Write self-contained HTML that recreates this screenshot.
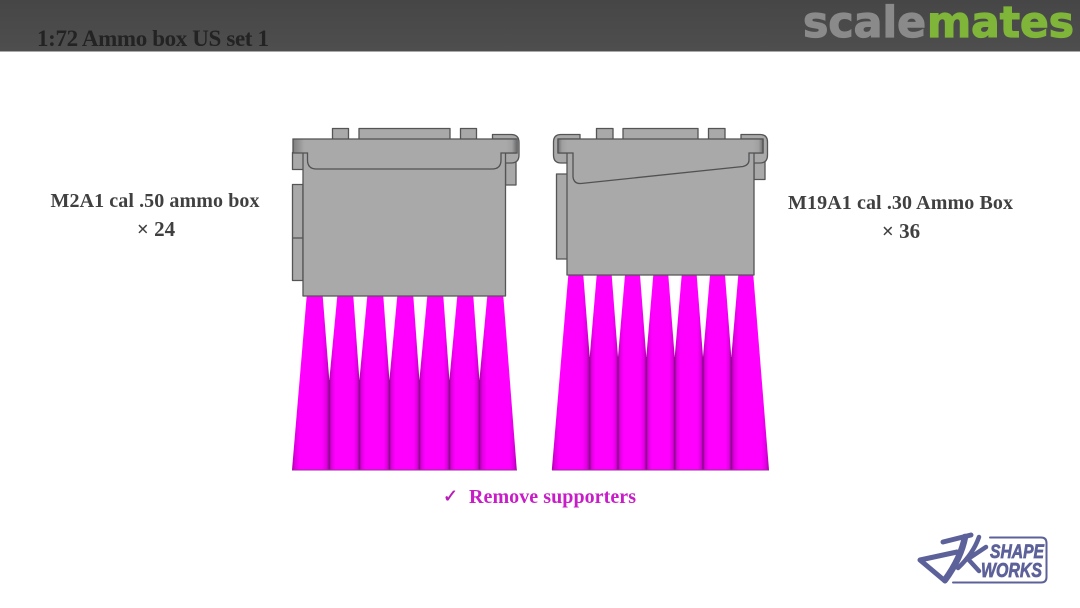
<!DOCTYPE html>
<html><head><meta charset="utf-8"><title>1:72 Ammo box US set 1</title>
<style>html,body{margin:0;padding:0;background:#fff}svg{display:block}</style></head>
<body>
<svg xmlns="http://www.w3.org/2000/svg" width="1080" height="608" viewBox="0 0 1080 608">
<defs>
<linearGradient id="hd" x1="0" y1="0" x2="0" y2="1"><stop offset="0" stop-color="#464646"/><stop offset="1" stop-color="#4e4e4e"/></linearGradient>
<linearGradient id="c"><stop offset="0" stop-color="#a800a8"/><stop offset=".08" stop-color="#e000e0"/><stop offset=".2" stop-color="#ff00ff"/><stop offset=".8" stop-color="#ff00ff"/><stop offset=".92" stop-color="#e000e0"/><stop offset="1" stop-color="#a800a8"/></linearGradient>
<linearGradient id="endL"><stop offset="0" stop-color="#808080"/><stop offset="1" stop-color="#a9a9a9"/></linearGradient>
<linearGradient id="endR"><stop offset="0" stop-color="#a9a9a9"/><stop offset=".6" stop-color="#a0a0a0"/><stop offset="1" stop-color="#757575"/></linearGradient>
</defs>
<rect width="1080" height="51" fill="url(#hd)"/>
<rect y="51" width="1080" height="1" fill="#a8a8a8"/>
<text x="37" y="46" font-family="'Liberation Serif',serif" font-weight="700" font-size="23" fill="#232323" textLength="232" lengthAdjust="spacing">1:72 Ammo box US set 1</text>
<text x="803" y="37" font-family="'DejaVu Sans',sans-serif" font-weight="700" font-size="43" fill="#8a8a8a" stroke="#8a8a8a" stroke-width="1.2" textLength="123" lengthAdjust="spacingAndGlyphs">scale</text>
<text x="927" y="37" font-family="'DejaVu Sans',sans-serif" font-weight="700" font-size="43" fill="#7fb539" stroke="#7fb539" stroke-width="1.2" textLength="147" lengthAdjust="spacingAndGlyphs">mates</text>

<!-- left supports -->
<g fill="url(#c)">
<polygon points="306.7,296 322.7,296 329.3,380 329.3,470 292,470"/>
<polygon points="337.3,296 353.3,296 359.4,380 359.4,470 329.3,470 329.3,380"/>
<polygon points="367.3,296 383.3,296 389.4,380 389.4,470 359.4,470 359.4,380"/>
<polygon points="397.3,296 413.3,296 419.4,380 419.4,470 389.4,470 389.4,380"/>
<polygon points="427.3,296 443.3,296 449.4,380 449.4,470 419.4,470 419.4,380"/>
<polygon points="457.3,296 473.3,296 479.4,380 479.4,470 449.4,470 449.4,380"/>
<polygon points="487.3,296 503.3,296 516.8,470 479.4,470 479.4,380"/>
</g>
<g stroke="#7a107f" stroke-width="1"><path d="M329.3 380V470M359.4 380V470M389.4 380V470M419.4 380V470M449.4 380V470M479.4 380V470" opacity=".85"/></g>
<rect x="292" y="469.5" width="225" height="1" fill="#9a2a9a"/>

<!-- right supports -->
<g fill="url(#c)">
<polygon points="568.3,275 583.3,275 589.7,357 589.7,470 551.8,470"/>
<polygon points="596.7,275 611.7,275 618,357 618,470 589.7,470 589.7,357"/>
<polygon points="625,275 640,275 646.3,357 646.3,470 618,470 618,357"/>
<polygon points="653.3,275 668.3,275 674.7,357 674.7,470 646.3,470 646.3,357"/>
<polygon points="681.7,275 696.7,275 703,357 703,470 674.7,470 674.7,357"/>
<polygon points="710,275 725,275 731.3,357 731.3,470 703,470 703,357"/>
<polygon points="738.3,275 753.3,275 769,470 731.3,470 731.3,357"/>
</g>
<g stroke="#7a107f" stroke-width="1"><path d="M589.7 357V470M618 357V470M646.3 357V470M674.7 357V470M703 357V470M731.3 357V470" opacity=".85"/></g>
<rect x="552" y="469.5" width="217" height="1" fill="#9a2a9a"/>

<!-- left box -->
<g fill="#a9a9a9" stroke="#555" stroke-width="1.3" stroke-linejoin="round">
<rect x="332.5" y="128.5" width="16" height="11"/>
<rect x="359" y="128.5" width="91" height="11"/>
<rect x="460.5" y="128.5" width="16" height="11"/>
<rect x="292.5" y="152.5" width="11" height="17"/>
<path d="M292.5 184.5H303V280.500H292.500Z"/>
<path d="M292.5 238H303" fill="none"/>
<rect x="505.5" y="160" width="10.500" height="25"/>
<path d="M492.5 139V134.500H511Q519 134.500 519 142.500V155Q519 163 511 163H503V153H516V139Z"/>
<rect x="303" y="152" width="202.500" height="144"/>
</g>
<path d="M293 139H517V153H501V160Q501 169 492 169H316.500Q307.500 169 307.500 160V153H293Z" fill="#a9a9a9"/>
<rect x="293.500" y="139.500" width="11" height="13" fill="url(#endL)"/>
<rect x="506" y="139.500" width="10" height="13" fill="url(#endR)"/>
<path d="M293 139H517V153H501V160Q501 169 492 169H316.500Q307.500 169 307.500 160V153H293Z" fill="none" stroke="#505254" stroke-width="1.3"/>

<!-- right box -->
<g fill="#a9a9a9" stroke="#555" stroke-width="1.3" stroke-linejoin="round">
<rect x="596.500" y="128.500" width="16.500" height="11"/>
<rect x="623" y="128.500" width="75" height="11"/>
<rect x="708.500" y="128.500" width="16.500" height="11"/>
<rect x="556.500" y="174" width="11" height="85"/>
<rect x="754" y="160" width="11" height="19.500"/>
<path d="M580 139V134.500H561Q553.500 134.500 553.500 142V155Q553.500 163 561 163H570V153H558V139Z"/>
<path d="M741 139V134.500H760Q767.500 134.500 767.500 142V155Q767.500 163 760 163H752V153H763V139Z"/>
<rect x="567" y="152" width="187" height="123"/>
</g>
<path d="M558 139H763V153H749V160Q749 165 743 166.500L581 183.500Q574 184 573 177V153H558Z" fill="#a9a9a9"/>
<rect x="558.500" y="139.500" width="9" height="13" fill="url(#endR)" transform="translate(1126 0) scale(-1 1)"/>
<rect x="753" y="139.500" width="9.500" height="13" fill="url(#endR)"/>
<path d="M558 139H763V153H749V160Q749 165 743 166.500L581 183.500Q574 184 573 177V153H558Z" fill="none" stroke="#505254" stroke-width="1.3"/>

<text x="155" y="207" text-anchor="middle" font-family="'Liberation Serif',serif" font-weight="700" font-size="20" fill="#404040" textLength="209" lengthAdjust="spacing">M2A1 cal .50 ammo box</text>
<text x="156" y="236" text-anchor="middle" font-family="'Liberation Serif',serif" font-weight="700" font-size="21" fill="#404040">× 24</text>
<text x="788" y="209" font-family="'Liberation Serif',serif" font-weight="700" font-size="20" fill="#404040" textLength="225" lengthAdjust="spacing">M19A1 cal .30 Ammo Box</text>
<text x="901" y="238" text-anchor="middle" font-family="'Liberation Serif',serif" font-weight="700" font-size="21" fill="#404040">× 36</text>
<text x="443" y="502" font-family="'DejaVu Sans',sans-serif" font-size="18" fill="#b81cb8" stroke="#b81cb8" stroke-width=".5">✓</text>
<text x="469" y="503" font-family="'Liberation Serif',serif" font-weight="700" font-size="20" fill="#c81cc8" textLength="167" lengthAdjust="spacing">Remove supporters</text>

<!-- logo -->
<g fill="none" stroke="#5d6199" stroke-linecap="round" stroke-linejoin="round">
<path d="M990 537.500H1041Q1046.500 537.500 1046.500 543V577Q1046.500 582.500 1041 582.500H953" stroke-width="2"/>
<path d="M943 542L971 535" stroke-width="5"/>
<path d="M965 537Q961 558 945 580" stroke-width="6.500"/>
<path d="M920 560L945 581M920 560L957 552" stroke-width="5"/>
<path d="M979 537Q973 554 958 568M986 547L968 559L979 571" stroke-width="4.500"/>
</g>
<g font-family="'Liberation Sans',sans-serif" font-weight="700" font-style="italic" fill="#5d6199" stroke="#5d6199" stroke-width=".7">
<text x="990" y="558" font-size="19" textLength="54" lengthAdjust="spacingAndGlyphs">SHAPE</text>
<text x="981" y="577" font-size="20" textLength="61" lengthAdjust="spacingAndGlyphs">WORKS</text>
</g>
</svg>
</body></html>
